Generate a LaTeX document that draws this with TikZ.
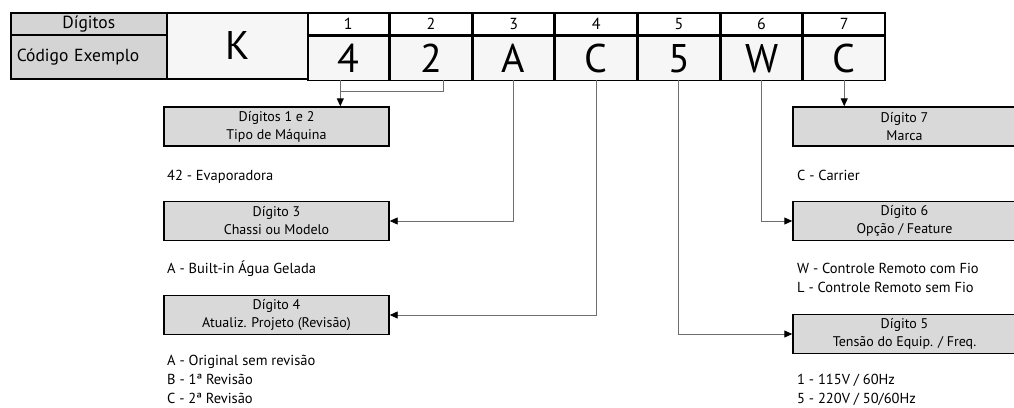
\documentclass[tikz,border=0pt]{standalone}
\usepackage{fontspec}
\setmainfont{PT Sans}
\usepackage{tikz}
\usetikzlibrary{matrix,arrows.meta}

\definecolor{labelgray}{HTML}{D4D4D4}
\definecolor{boxgray}{HTML}{D9D9D9}
\definecolor{codegray}{HTML}{F6F6F6}
\definecolor{linegray}{HTML}{6E6E6E}

\tikzset{
  cell/.style={draw, line width=1.5pt, inner sep=0pt, outer sep=0pt},
  descbox/.style={draw, line width=1.4pt, fill=boxgray, minimum width=225pt,
                  minimum height=39pt, inner sep=0pt, align=center,
                  font=\fontsize{14}{18}\selectfont},
  desc/.style={anchor=base west, inner sep=0pt, align=left,
               font=\fontsize{14.5}{19}\selectfont},
  plain/.style={draw=linegray, line width=0.9pt},
  link/.style={plain, -{Triangle[length=8pt,width=7pt,color=black]}},
}

\begin{document}
\begin{tikzpicture}[x=1pt,y=-1pt]
\useasboundingbox (0,0) rectangle (1014,407);

% tabela do codigo
\matrix[matrix of nodes,
        nodes in empty cells,
        anchor=north west, inner sep=0pt, outer sep=0pt,
        nodes={cell, minimum width=81.15pt, anchor=center},
        row 1/.style={nodes={minimum height=22pt, fill=white, font=\fontsize{16}{18}\selectfont}},
        row 2/.style={nodes={minimum height=44pt, fill=codegray, font=\fontsize{40}{44}\selectfont}},
        column sep=0pt, row sep=0pt] (m) at (307,12) {
  1 & 2 & 3 & 4 & 5 & 6 & 7 \\
  4 & 2 & A & C & 5 & W & C \\
};

\node[cell, fill=codegray, minimum width=141pt, minimum height=66pt, anchor=north east,
      font=\fontsize{40}{44}\selectfont] (k) at (m-1-1.north west) {K};
\node[cell, fill=labelgray, minimum width=156pt, minimum height=22pt, anchor=north east,
      font=\fontsize{17.5}{20}\selectfont] (dig) at (k.north west) {Dígitos};
\node[cell, fill=labelgray, minimum width=156pt, minimum height=44pt, anchor=north,
      text width=144pt, align=left, font=\fontsize{17.5}{20}\selectfont] (cod) at (dig.south) {Código Exemplo};

% caixas
\node[descbox] (b12) at (276.5,126.5) {Dígitos 1 e 2\\Tipo de Máquina};
\node[descbox] (b3) at (276.5,221) {Dígito 3\\Chassi ou Modelo};
\node[descbox] (b4) at (276.5,315) {Dígito 4\\Atualiz. Projeto (Revisão)};
\node[descbox, minimum width=223pt] (b7) at (904.5,126.5) {Dígito 7\\Marca};
\node[descbox, minimum width=223pt] (b6) at (904.5,221) {Dígito 6\\Opção / Feature};
\node[descbox, minimum width=223pt] (b5) at (904.5,334) {Dígito 5\\Tensão do Equip. / Freq.};

% opcoes (ancora na ultima linha)
\node[desc] (t12) at (167,180) {42 - Evaporadora};
\node[desc] (t3) at (167,273) {A - Built-in Água Gelada};
\node[desc] (t4) at (167,403) {A - Original sem revisão\\B - 1ª Revisão\\C - 2ª Revisão};
\node[desc] (t7) at (797,180) {C - Carrier};
\node[desc] (t6) at (797,292.5) {W - Controle Remoto com Fio\\L - Controle Remoto sem Fio};
\node[desc] (t5) at (797,403) {1 - 115V / 60Hz\\5 - 220V / 50/60Hz};

% ligacoes
\coordinate (d1) at ([xshift=-8pt]m-2-1.south);
\coordinate (d2) at ([xshift=12pt]m-2-2.south);
\draw[plain] (d2) -- ++(0,11) -| (d1);
\draw[link] (d1) -- (d1 |- b12.north);
\draw[link] (m-2-3.south) |- (b3.east);
\draw[link] (m-2-4.south) |- (b4.east);
\draw[link] (m-2-5.south) |- (b5.west);
\draw[link] (m-2-6.south) |- (b6.west);
\draw[link] (m-2-7.south) -- (m-2-7.south |- b7.north);
\end{tikzpicture}
\end{document}
